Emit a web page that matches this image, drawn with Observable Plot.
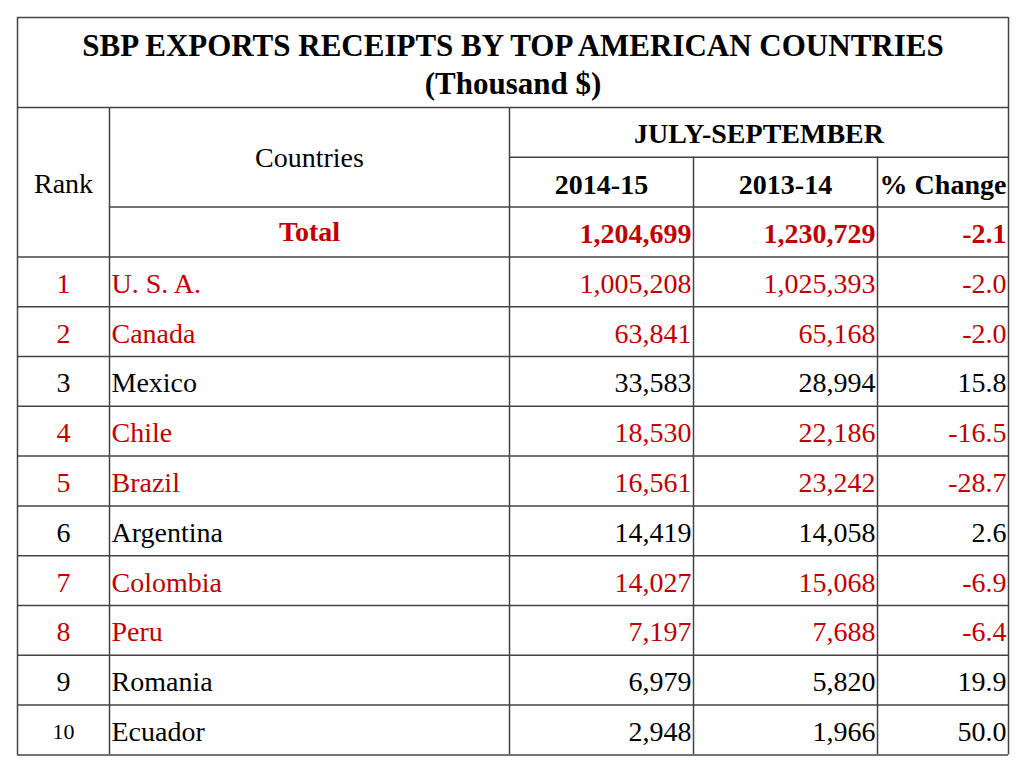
<!DOCTYPE html>
<html>
<head>
<meta charset="utf-8">
<script src="https://cdn.jsdelivr.net/npm/d3@7"></script>
<script src="https://cdn.jsdelivr.net/npm/@observablehq/plot@0.6"></script>
<style>
  html, body { margin: 0; padding: 0; background: #fff; }
</style>
</head>
<body>
<div id="chart"></div>
<script>
// ---- Data ----
const titleLines = ["SBP EXPORTS RECEIPTS BY TOP AMERICAN COUNTRIES", "(Thousand $)"];
const periodLabel = "JULY-SEPTEMBER";
const rankHeader = "Rank";
const countryHeader = "Countries";
const columnHeaders = ["2014-15", "2013-14", "% Change"];
const totalLabel = "Total";
const totalValues = [1204699, 1230729, -2.1];
const ranks = [1, 2, 3, 4, 5, 6, 7, 8, 9, 10];
const countries = ["U. S. A.", "Canada", "Mexico", "Chile", "Brazil", "Argentina", "Colombia", "Peru", "Romania", "Ecuador"];
const exports2014_15 = [1005208, 63841, 33583, 18530, 16561, 14419, 14027, 7197, 6979, 2948];
const exports2013_14 = [1025393, 65168, 28994, 22186, 23242, 14058, 15068, 7688, 5820, 1966];
const pctChange = [-2.0, -2.0, 15.8, -16.5, -28.7, 2.6, -6.9, -6.4, 19.9, 50.0];

// ---- Layout (table geometry) ----
const W = 1024, H = 768;
const cols = [17, 109, 509, 693, 877, 1008]; // column edges
const tableTop = 17, headTop = 107, rowH = 49.8;
const rowTop = k => headTop + k * rowH;          // k: 0 period, 1 years, 2 total, 3.. data rows
const rowMid = k => rowTop(k) + rowH / 2;
const nRows = 3 + ranks.length;
const pad = 2;
const RED = "#c00000", BLACK = "#000000";
const lineColor = "#444";

const rows = ranks.map((r, i) => ({
  rank: r, country: countries[i], a: exports2014_15[i], b: exports2013_14[i], pct: pctChange[i], k: 3 + i
}));
const locale = d3.formatLocale({decimal: ".", thousands: ",", grouping: [3], currency: ["", ""], minus: "-"});
const fmtN = locale.format(",");
const fmtP = locale.format(".1f");
const rowColor = d => d.pct < 0 ? RED : BLACK;

// grid lines
const hLines = [
  {y: tableTop, x1: cols[0], x2: cols[5]},
  {y: rowTop(0), x1: cols[0], x2: cols[5]},
  {y: rowTop(1), x1: cols[2], x2: cols[5]},
  {y: rowTop(2), x1: cols[1], x2: cols[5]},
  ...d3.range(3, nRows + 1).map(k => ({y: rowTop(k), x1: cols[0], x2: cols[5]}))
];
const vLines = [
  {x: cols[0], y1: tableTop, y2: rowTop(nRows)},
  {x: cols[5], y1: tableTop, y2: rowTop(nRows)},
  {x: cols[1], y1: rowTop(0), y2: rowTop(nRows)},
  {x: cols[2], y1: rowTop(0), y2: rowTop(nRows)},
  {x: cols[3], y1: rowTop(1), y2: rowTop(nRows)},
  {x: cols[4], y1: rowTop(1), y2: rowTop(nRows)}
];

const tableCx = (cols[0] + cols[5]) / 2;
const colCx = j => (cols[j] + cols[j + 1]) / 2;

const titleCells = [
  {text: titleLines[0], x: tableCx, y: 46},
  {text: titleLines[1], x: tableCx, y: 84}
];
const boldHeaderCells = [
  {text: periodLabel, x: (cols[2] + cols[5]) / 2, y: rowMid(0) + 2},
  {text: columnHeaders[0], x: colCx(2), y: rowMid(1) + 3},
  {text: columnHeaders[1], x: colCx(3), y: rowMid(1) + 3},
  {text: columnHeaders[2], x: colCx(4), y: rowMid(1) + 3}
];
const plainHeaderCells = [
  {text: rankHeader, x: colCx(0), y: rowTop(1) + 27},
  {text: countryHeader, x: colCx(1), y: rowTop(1) + 1}
];
const totalRow = {label: totalLabel, a: totalValues[0], b: totalValues[1], pct: totalValues[2], k: 2};

const chart = Plot.plot({
  width: W, height: H,
  marginTop: 0, marginRight: 0, marginBottom: 0, marginLeft: 0,
  x: {domain: [0, W], range: [0, W], axis: null},
  y: {domain: [0, H], range: [0, H], axis: null},
  style: {fontFamily: "'Liberation Serif', 'Times New Roman', serif", background: "#fff", overflow: "visible"},
  marks: [
    Plot.ruleY(hLines, {y: "y", x1: "x1", x2: "x2", stroke: lineColor, strokeWidth: 1.5}),
    Plot.ruleX(vLines, {x: "x", y1: "y1", y2: "y2", stroke: lineColor, strokeWidth: 1.5}),
    // header cells
    Plot.text(titleCells, {x: "x", y: "y", text: "text", fontSize: 31, fontWeight: "bold", textAnchor: "middle", fill: BLACK}),
    Plot.text(boldHeaderCells, {x: "x", y: "y", text: "text", fontSize: 28, fontWeight: "bold", textAnchor: "middle", fill: BLACK}),
    Plot.text(plainHeaderCells, {x: "x", y: "y", text: "text", fontSize: 28, textAnchor: "middle", fill: BLACK}),
    // total row
    Plot.text([totalRow], {x: () => colCx(1), y: d => rowMid(d.k), text: "label", fontSize: 28, fontWeight: "bold", textAnchor: "middle", fill: RED}),
    Plot.text([totalRow], {x: () => cols[3] - pad, y: d => rowMid(d.k) + 2, text: d => fmtN(d.a), fontSize: 28, fontWeight: "bold", textAnchor: "end", fill: RED}),
    Plot.text([totalRow], {x: () => cols[4] - pad, y: d => rowMid(d.k) + 2, text: d => fmtN(d.b), fontSize: 28, fontWeight: "bold", textAnchor: "end", fill: RED}),
    Plot.text([totalRow], {x: () => cols[5] - pad, y: d => rowMid(d.k) + 2, text: d => fmtP(d.pct), fontSize: 28, fontWeight: "bold", textAnchor: "end", fill: RED}),
    // data rows
    Plot.text(rows, {x: () => colCx(0), y: d => rowMid(d.k) + 2, text: d => String(d.rank), fontSize: d => String(d.rank).length > 1 ? 22 : 28, textAnchor: "middle", fill: rowColor}),
    Plot.text(rows, {x: () => cols[1] + pad, y: d => rowMid(d.k) + 2, text: "country", fontSize: 28, textAnchor: "start", fill: rowColor}),
    Plot.text(rows, {x: () => cols[3] - pad, y: d => rowMid(d.k) + 2, text: d => fmtN(d.a), fontSize: 28, textAnchor: "end", fill: rowColor}),
    Plot.text(rows, {x: () => cols[4] - pad, y: d => rowMid(d.k) + 2, text: d => fmtN(d.b), fontSize: 28, textAnchor: "end", fill: rowColor}),
    Plot.text(rows, {x: () => cols[5] - pad, y: d => rowMid(d.k) + 2, text: d => fmtP(d.pct), fontSize: 28, textAnchor: "end", fill: rowColor})
  ]
});
document.getElementById("chart").appendChild(chart);
</script>
</body>
</html>
